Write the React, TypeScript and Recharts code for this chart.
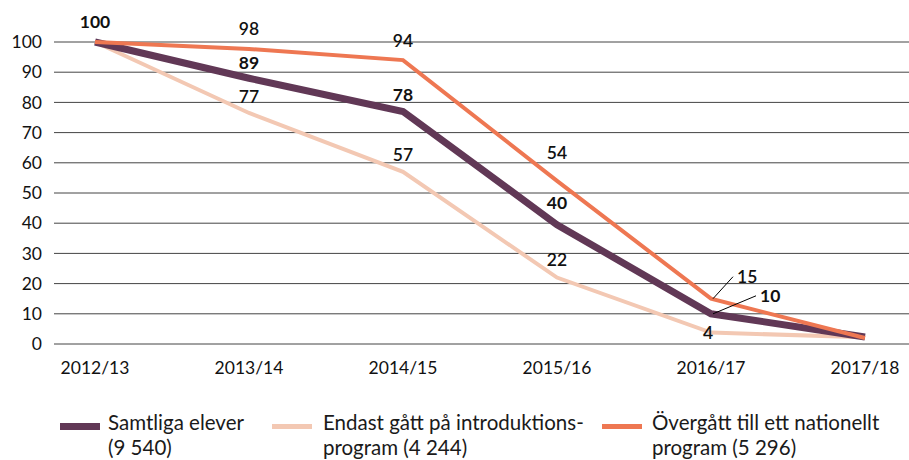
import { LineChart, Line, CartesianGrid, XAxis, YAxis, Legend, LabelList } from "recharts";

const years = ["2012/13", "2013/14", "2014/15", "2015/16", "2016/17", "2017/18"];

const samtliga = [100, 88, 77, 39.5, 10, 2.3];
const samtligaLabels = ["100", "89", "78", "40", "10", ""];

const endast = [100, 76.5, 57, 22, 3.8, 2.2];
const endastLabels = ["", "77", "57", "22", "4", ""];

const overgatt = [100, 97.7, 94, 54, 15, 2];
const overgattLabels = ["", "98", "94", "54", "15", ""];

const yTicks = [0, 10, 20, 30, 40, 50, 60, 70, 80, 90, 100];

const PLUM = "#613856";
const PEACH = "#f3c8b3";
const ORANGE = "#ee7752";
const FONT = "Lato, 'Noto Sans', sans-serif";

const data = years.map((year, i) => ({
  year,
  samtliga: samtliga[i],
  endast: endast[i],
  overgatt: overgatt[i],
}));

// baseline offset of each value label above its point
const samtligaDy = [-14, -9, -10, -16, 0, 0];
const endastDy = [0, -10, -11, -12, 6, 0];
const overgattDy = [0, -14, -13, -22, 0, 0];

function makeLabel(labels: string[], dys: number[], weight: number, leader?: { index: number; dx: number; dy: number }) {
  return (props: any) => {
    const { x, y, index } = props;
    const text = labels[index];
    if (!text) return null;
    if (leader && leader.index === index) {
      return (
        <g>
          <line x1={x + 2} y1={y} x2={x + leader.dx} y2={y + leader.dy} stroke="#000" strokeWidth={1} />
          <text
            x={x + leader.dx + 4}
            y={y + leader.dy + 6}
            fontSize={17.5}
            fontWeight={weight}
            fontFamily={FONT}
            fill="#111"
          >
            {text}
          </text>
        </g>
      );
    }
    return (
      <text x={x - (index === 4 ? 3 : 0)} y={y + dys[index]} textAnchor="middle" fontSize={17.5} fontWeight={weight} fontFamily={FONT} fill="#111">
        {text}
      </text>
    );
  };
}

const legendItems = [
  { color: PLUM, width: 7, swatchX: 60, textX: 108, lines: ["Samtliga elever", "(9 540)"] },
  { color: PEACH, width: 5, swatchX: 272, textX: 323, lines: ["Endast gått på introduktions-", "program (4 244)"] },
  { color: ORANGE, width: 5, swatchX: 602, textX: 652, lines: ["Övergått till ett nationellt", "program (5 296)"] },
];

function LegendContent() {
  return (
    <div style={{ position: "relative", width: 909, height: 70, fontFamily: FONT, fontSize: 20.5, color: "#1a1a1a" }}>
      {legendItems.map((item) => (
        <div key={item.lines[0]}>
          <div
            style={{
              position: "absolute",
              left: item.swatchX,
              top: 36 - item.width / 2,
              width: 40,
              height: item.width,
              background: item.color,
            }}
          />
          <div style={{ position: "absolute", left: item.textX, top: 20, lineHeight: "25px", whiteSpace: "nowrap" }}>
            {item.lines[0]}
            <br />
            {item.lines[1]}
          </div>
        </div>
      ))}
    </div>
  );
}

export default function App() {
  return (
    <div style={{ position: "absolute", left: 0, top: 0, width: 909, height: 460, background: "#fff" }}>
      <LineChart width={909} height={460} data={data} margin={{ top: 42, right: 0, bottom: 0, left: 0 }}>
        <CartesianGrid vertical={false} stroke="#444" strokeWidth={1} />
        <XAxis
          dataKey="year"
          axisLine={false}
          tickLine={false}
          tickSize={0}
          tickMargin={18}
          height={46}
          padding={{ left: 41, right: 44 }}
          interval={0}
          tick={{ fontSize: 17.5, fill: "#111", fontFamily: FONT }}
        />
        <YAxis
          domain={[0, 100]}
          ticks={yTicks}
          axisLine={false}
          tickLine={false}
          tickSize={0}
          tickMargin={12}
          width={54}
          interval={0}
          tick={{ fontSize: 17.5, fill: "#111", fontFamily: FONT }}
        />
        <Legend verticalAlign="bottom" height={70} wrapperStyle={{ left: 0, width: 909 }} content={() => <LegendContent />} />
        <Line dataKey="endast" stroke={PEACH} strokeWidth={4} dot={false} isAnimationActive={false}>
          <LabelList content={makeLabel(endastLabels, endastDy, 600)} />
        </Line>
        <Line dataKey="samtliga" stroke={PLUM} strokeWidth={7} dot={false} isAnimationActive={false}>
          <LabelList content={makeLabel(samtligaLabels, samtligaDy, 700, { index: 4, dx: 45, dy: -18 })} />
        </Line>
        <Line dataKey="overgatt" stroke={ORANGE} strokeWidth={4} dot={false} isAnimationActive={false}>
          <LabelList content={makeLabel(overgattLabels, overgattDy, 600, { index: 4, dx: 22, dy: -22 })} />
        </Line>
      </LineChart>
    </div>
  );
}
